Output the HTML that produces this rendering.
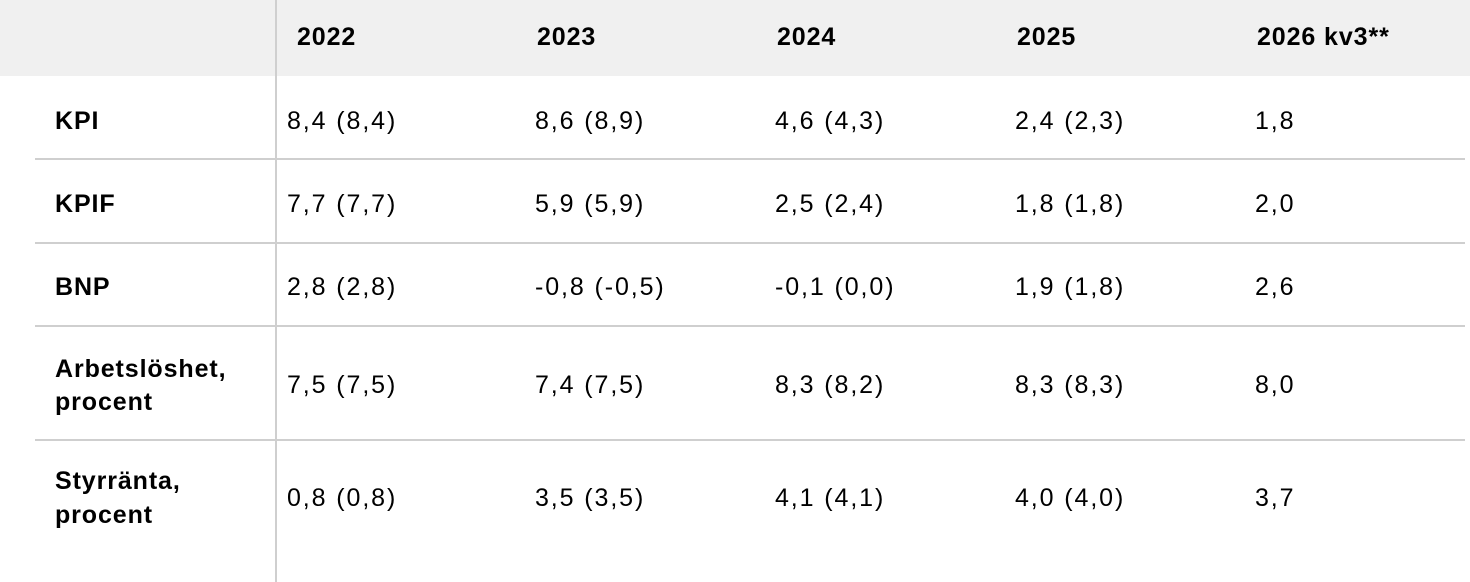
<!DOCTYPE html>
<html><head><meta charset="utf-8"><style>
body{margin:0;width:1470px;height:582px;background:#fff;position:relative;overflow:hidden;font-family:"Liberation Sans",sans-serif;font-size:25px;letter-spacing:1.9px;color:#000}
.hd{position:absolute;left:0;top:0;width:1470px;height:76px;background:#f0f0f0}
.v{position:absolute;left:275px;top:0;width:2px;height:582px;background:#cfcfcf}
.h{position:absolute;left:35px;width:1430px;height:2px;background:#cfcfcf}
.t{position:absolute;line-height:28px;transform:translateY(-50%);white-space:nowrap}
.b{font-weight:bold;letter-spacing:0.9px}
</style></head><body>
<div class="hd"></div>
<div class="v"></div>
<div class="h" style="top:158px"></div>
<div class="h" style="top:242px"></div>
<div class="h" style="top:325px"></div>
<div class="h" style="top:439px"></div>

<div class="t b" style="left:297px;top:37px">2022</div>
<div class="t b" style="left:537px;top:37px">2023</div>
<div class="t b" style="left:777px;top:37px">2024</div>
<div class="t b" style="left:1017px;top:37px">2025</div>
<div class="t b" style="left:1257px;top:37px">2026 kv3**</div>

<div class="t b" style="left:55px;top:121px">KPI</div>
<div class="t" style="left:287px;top:121px">8,4 (8,4)</div>
<div class="t" style="left:535px;top:121px">8,6 (8,9)</div>
<div class="t" style="left:775px;top:121px">4,6 (4,3)</div>
<div class="t" style="left:1015px;top:121px">2,4 (2,3)</div>
<div class="t" style="left:1255px;top:121px">1,8</div>

<div class="t b" style="left:55px;top:204px">KPIF</div>
<div class="t" style="left:287px;top:204px">7,7 (7,7)</div>
<div class="t" style="left:535px;top:204px">5,9 (5,9)</div>
<div class="t" style="left:775px;top:204px">2,5 (2,4)</div>
<div class="t" style="left:1015px;top:204px">1,8 (1,8)</div>
<div class="t" style="left:1255px;top:204px">2,0</div>

<div class="t b" style="left:55px;top:287px">BNP</div>
<div class="t" style="left:287px;top:287px">2,8 (2,8)</div>
<div class="t" style="left:535px;top:287px">-0,8 (-0,5)</div>
<div class="t" style="left:775px;top:287px">-0,1 (0,0)</div>
<div class="t" style="left:1015px;top:287px">1,9 (1,8)</div>
<div class="t" style="left:1255px;top:287px">2,6</div>

<div class="t b" style="left:55px;top:369px">Arbetslöshet,</div>
<div class="t b" style="left:55px;top:402px">procent</div>
<div class="t" style="left:287px;top:385px">7,5 (7,5)</div>
<div class="t" style="left:535px;top:385px">7,4 (7,5)</div>
<div class="t" style="left:775px;top:385px">8,3 (8,2)</div>
<div class="t" style="left:1015px;top:385px">8,3 (8,3)</div>
<div class="t" style="left:1255px;top:385px">8,0</div>

<div class="t b" style="left:55px;top:481px">Styrränta,</div>
<div class="t b" style="left:55px;top:515px">procent</div>
<div class="t" style="left:287px;top:498px">0,8 (0,8)</div>
<div class="t" style="left:535px;top:498px">3,5 (3,5)</div>
<div class="t" style="left:775px;top:498px">4,1 (4,1)</div>
<div class="t" style="left:1015px;top:498px">4,0 (4,0)</div>
<div class="t" style="left:1255px;top:498px">3,7</div>
</body></html>
